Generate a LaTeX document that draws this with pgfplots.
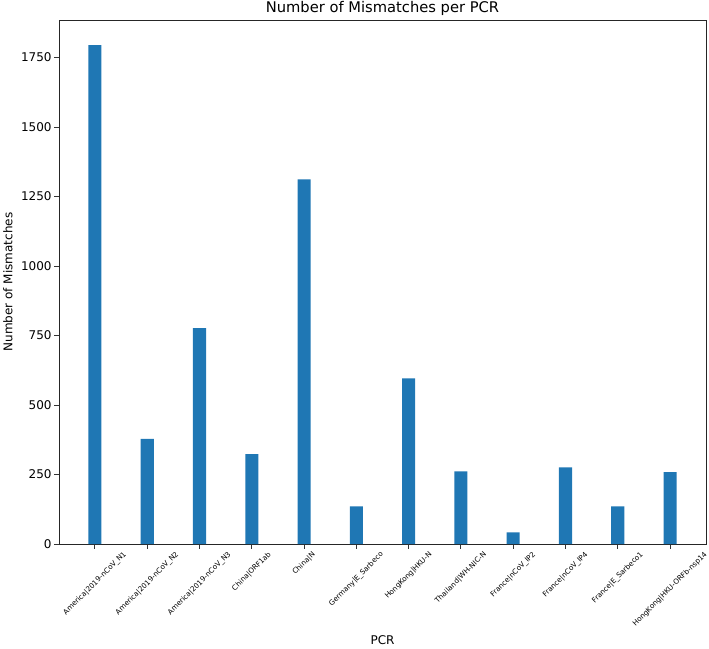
\documentclass[border=0pt]{standalone}
\usepackage{pgfplots}
\pgfplotsset{compat=1.18}
\usepackage{graphicx}
\usepackage{fontspec}
\setmainfont{DejaVu Sans}
\definecolor{mplblue}{HTML}{1F77B4}
\newcommand{\rl}[1]{\rotatebox{45}{\fontsize{7.2}{8.5}\selectfont #1}}
\begin{document}
\begin{tikzpicture}
\begin{axis}[
  scale only axis,
  width=647pt, height=524pt,
  xmin=-0.6875, xmax=11.6875,
  ymin=0, ymax=1885,
  ytick={0,250,500,750,1000,1250,1500,1750},
  xtick={0,...,11},
  xticklabels={
    \rl{America|2019-nCoV\_N1},
    \rl{America|2019-nCoV\_N2},
    \rl{America|2019-nCoV\_N3},
    \rl{China|ORF1ab},
    \rl{China|N},
    \rl{Germany|E\_Sarbeco},
    \rl{HongKong|HKU-N},
    \rl{Thailand|WH-NIC-N},
    \rl{France|nCoV\_IP2},
    \rl{France|nCoV\_IP4},
    \rl{France|E\_Sarbeco1},
    \rl{HongKong|HKU-ORFb-nsp14}},
  tick align=outside,
  tick pos=left,
  major tick length=4.7pt,
  tick style={black!80, line width=0.9pt},
  axis line style={black!85, line width=0.9pt},
  /pgf/number format/assume math mode=true,
  /pgf/number format/1000 sep={},
  yticklabel style={font=\fontsize{12}{14}\selectfont, inner sep=2.5pt},
  xticklabel style={inner sep=2pt},
  title={Number of Mismatches per PCR},
  every axis title/.style={font=\fontsize{14.7}{17}\selectfont, at={(0.5,1)}, anchor=base, yshift=7pt, inner sep=0pt},
  xlabel={PCR},
  xlabel style={font=\fontsize{12}{14}\selectfont, at={(axis description cs:0.5,0)}, anchor=center, yshift=-96pt},
  ylabel={Number of Mismatches},
  ylabel style={font=\fontsize{12}{14}\selectfont, at={(axis description cs:0,0.5)}, anchor=center, yshift=51pt},
  clip=false,
]
\addplot[ybar, bar width=0.25, fill=mplblue, draw=none] coordinates {
  (0,1795) (1,378) (2,777) (3,323) (4,1312) (5,135)
  (6,596) (7,261) (8,42) (9,276) (10,135) (11,259)
};
\end{axis}
\pgfresetboundingbox
\path[use as bounding box] (-59pt,-104pt) rectangle (650pt,544pt);
\end{tikzpicture}
\end{document}
